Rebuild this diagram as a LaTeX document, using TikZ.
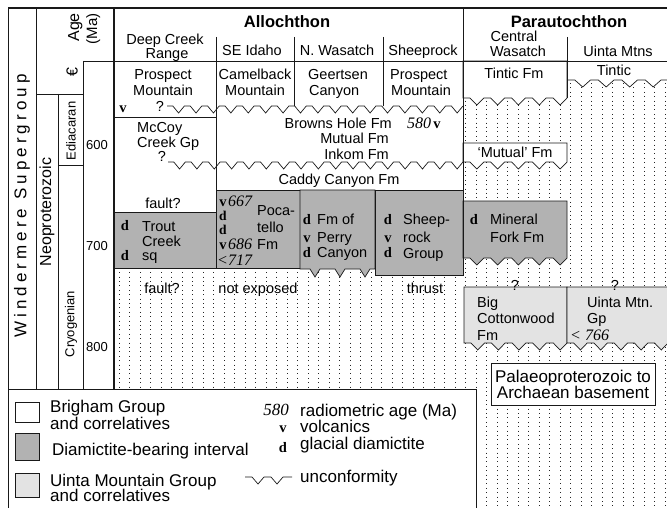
\documentclass[tikz,border=0pt]{standalone}
\usepackage{fontspec}
\setmainfont{Liberation Sans}
\newfontfamily\srf{Liberation Serif}
\newfontfamily\spacedsans[LetterSpace=24]{Liberation Sans}
\definecolor{diam}{RGB}{178,178,178}
\definecolor{uinta}{RGB}{227,227,227}
\definecolor{ink}{RGB}{25,25,25}
\newcommand{\wav}[3]{\foreach \k in {1,...,#1}{ -- ++({#2/3},0) -- ++({#2/3},#3) -- ++({#2/3},-#3)}}
\begin{document}
\begin{tikzpicture}[x=1pt,y=-1pt,
  ln/.style={draw=ink,line width=0.7pt},
  thk/.style={draw=ink,line width=1.6pt},
  dotl/.style={draw=black!85,line width=1pt,dash pattern=on 1pt off 3.4pt},
  dbox/.style={ln,fill=diam},
  ubox/.style={ln,fill=uinta},
  wbox/.style={ln,fill=white},
  tx/.style={inner sep=0pt,anchor=base,font=\fontsize{14.5}{16}\selectfont},
  tl/.style={tx,anchor=base west},
  tr/.style={tx,anchor=base east},
  hd/.style={inner sep=0pt,anchor=base,font=\fontsize{16.5}{18}\selectfont\bfseries},
  lg/.style={inner sep=0pt,anchor=base west,font=\fontsize{17}{18}\selectfont},
  lgc/.style={lg,anchor=base},
  sy/.style={inner sep=0pt,anchor=base,font=\srf\bfseries\fontsize{14.5}{15}\selectfont},
  sys/.style={sy,font=\srf\bfseries\fontsize{13.5}{14}\selectfont},
  nm/.style={inner sep=0pt,anchor=base west,font=\srf\itshape\fontsize{16}{16}\selectfont},
  rt/.style={inner sep=0pt,rotate=90,anchor=center},
]
\useasboundingbox (0,0) rectangle (667,508);

% dotted background
\begin{scope}
\clip (114,61) rectangle (667,508);
\foreach \x in {0,...,52} \draw[dotl] ({119+10.5*\x},61) -- ({119+10.5*\x},508);
\end{scope}

% white areas
\fill[white] (114,61) rectangle (216,212);
\fill[white] (216,61) rectangle (463,190);
\filldraw[wbox] (463,61) -- (463,98) \wav{5}{20.8}{7} -- (567,61) -- cycle;
\fill[white] (567,61) -- (567,80) \wav{4}{23.5}{7} -- (667,80) -- (667,61) -- cycle;
\draw[ln] (567,80) \wav{4}{23.5}{7} -- (667,80);
\filldraw[wbox] (463,143) -- (463,162) \wav{5}{20.8}{7} -- (567,143) -- cycle;

% unconformities in the allochthon
\draw[ln] (167,106) \wav{17}{17.41}{7};
\draw[ln] (168,162) \wav{17}{17.35}{7};

% diamictite boxes
\filldraw[dbox] (114,212) rectangle (216,268);
\filldraw[dbox] (216,190) rectangle (300,268);
\filldraw[dbox] (300,190) -- (300,269) -- (310,269) -- (315,277) -- (320,269) -- (335,269) -- (340,277) -- (345,269) -- (360,269) -- (365,277) -- (370,269) -- (375,269) -- (375,190) -- cycle;
\filldraw[dbox] (375,190) rectangle (463,275);
\filldraw[dbox] (463,201) -- (463,258) \wav{5}{20.8}{7} -- (567,201) -- cycle;

% Uinta group boxes
\filldraw[ubox] (464,287) -- (464,343) \wav{5}{20.6}{7} -- (567,287) -- cycle;
\filldraw[ubox] (567,287) -- (567,343) \wav{5}{20.2}{7} -- (668,287) -- cycle;

% basement box
\filldraw[wbox] (491,363) rectangle (655,405);

% legend box
\filldraw[wbox] (8,389) rectangle (476,515);

% frame lines
\draw[ln,line width=1.1pt] (8,8) -- (667,8);
\draw[ln] (8,8) -- (8,515);
\draw[ln] (36,8) -- (36,389);
\draw[ln] (58,94) -- (58,389);
\draw[ln] (83,61) -- (83,389);
\draw[ln] (36,94) -- (83,94);
\draw[ln] (58,165) -- (83,165);
\draw[ln] (83,61) -- (667,61);
\draw[thk] (114,8) -- (114,389);
\draw[ln] (114,117) -- (216,117);
\draw[ln] (216,37) -- (216,268);
\draw[ln] (294,37) -- (294,106);
\draw[ln] (383,37) -- (383,106);
\draw[ln] (463,8) -- (463,275);
\draw[ln] (567,37) -- (567,98);

% header texts
\node[hd] (allo) at (287,28) {Allochthon};
\node[hd] (para) at (569,28) {Parautochthon};
\node[tx] (dc1) at (165,45) {Deep Creek};
\node[tx] (dc2) at (167,58.5) {Range};
\node[tx] (sei) at (252,56) {SE Idaho};
\node[tx] (nwa) at (337,56) {N. Wasatch};
\node[tx] (shr) at (423,56) {Sheeprock};
\node[tx] (cw1) at (514,42) {Central};
\node[tx] (cw2) at (518,57) {Wasatch};
\node[tx] (umt) at (618,57) {Uinta Mtns};

% left columns
\node[rt,font=\spacedsans\fontsize{17}{18}\selectfont] (wind) at (22,206) {Windermere Supergroup};
\node[rt,font=\fontsize{16}{18}\selectfont] (neo) at (47,212) {Neoproterozoic};
\node[rt,font=\fontsize{13}{14}\selectfont] (edi) at (71,131) {Ediacaran};
\node[rt,font=\fontsize{13}{14}\selectfont] (cryo) at (71,324) {Cryogenian};
\node[rt,font=\fontsize{16}{18}\selectfont] (camb) at (72,72) {€};
\node[inner sep=0pt,rotate=90,anchor=base east,font=\fontsize{16}{18}\selectfont] (age1) at (79,13) {Age};
\node[inner sep=0pt,rotate=90,anchor=base east,font=\fontsize{15}{18}\selectfont] (age2) at (97,13) {(Ma)};
\node[tx,font=\fontsize{13}{14}\selectfont] (a600) at (97,150) {600};
\node[tx,font=\fontsize{13}{14}\selectfont] (a700) at (97,250) {700};
\node[tx,font=\fontsize{13}{14}\selectfont] (a800) at (97,351) {800};

% row 1
\node[tx] (pm1) at (163,80) {Prospect};
\node[tx] (pm2) at (163,96) {Mountain};
\node[tx] (cb1) at (255,80) {Camelback};
\node[tx] (cb2) at (255,96) {Mountain};
\node[tl] (gc1) at (308,80) {Geertsen};
\node[tl] (gc2) at (309,96) {Canyon};
\node[tl] (sp1) at (390,80) {Prospect};
\node[tl] (sp2) at (391,96) {Mountain};
\node[tx] (tf) at (514,79) {Tintic Fm};
\node[tx] (ti) at (614,76) {Tintic};
\node[sy] (v1) at (123,113) {v};
\node[tx] (q1) at (160,112) {?};

% row 2
\node[tl] (mc1) at (137,133) {McCoy};
\node[tl] (mc2) at (137,148) {Creek Gp};
\node[tx] (q2) at (162,161) {?};
\node[tr] (bh) at (392,129) {Browns Hole Fm};
\node[tr] (mu) at (389,144) {Mutual Fm};
\node[tr] (ik) at (389,160) {Inkom Fm};
\node[nm] (n580) at (407,129) {580};
\node[sy] (v580) at (437,129) {v};
\node[tx] (mut) at (515,158) {‘Mutual’ Fm};
\node[tx] (cc) at (339,185) {Caddy Canyon Fm};
\node[tx] (f1) at (163,208) {fault?};

% Trout Creek
\node[sy] (tcd1) at (125,230) {d};
\node[sy] (tcd2) at (125,260) {d};
\node[tl] (tc1) at (142,231) {Trout};
\node[tl] (tc2) at (142,246) {Creek};
\node[tl] (tc3) at (142,260) {sq};

% Pocatello
\node[sy] (pv1) at (223,206) {v};
\node[nm] (p667) at (228,206) {667};
\node[sys] (pd1) at (223,220.5) {d};
\node[sys] (pd2) at (223,234) {d};
\node[sy] (pv2) at (223,249) {v};
\node[nm] (p686) at (228,249) {686};
\node[nm] (p717) at (217,265.5) {<717};
\node[tl] (po1) at (257,215) {Poca-};
\node[tl] (po2) at (257,232) {tello};
\node[tl] (po3) at (257,249) {Fm};

% Perry Canyon
\node[sy] (pcd1) at (307,225) {d};
\node[sy] (pcv) at (307,242) {v};
\node[sy] (pcd2) at (307,257) {d};
\node[tl] (pc1) at (317,225) {Fm of};
\node[tl] (pc2) at (317,242) {Perry};
\node[tl] (pc3) at (317,257) {Canyon};

% Sheeprock
\node[sy] (srd1) at (388,225) {d};
\node[sy] (srv) at (388,242) {v};
\node[sy] (srd2) at (388,257) {d};
\node[tl] (sr1) at (403,225) {Sheep-};
\node[tl] (sr2) at (403,242) {rock};
\node[tl] (sr3) at (403,258) {Group};

% Mineral Fork
\node[sy] (mfd) at (474,225) {d};
\node[tl] (mf1) at (490,225) {Mineral};
\node[tl] (mf2) at (490,242) {Fork Fm};

% lower notes
\node[tx] (f2) at (162,293) {fault?};
\node[tx] (ne) at (258,293) {not exposed};
\node[tx] (th) at (425,293) {thrust};
\node[tx] (q3) at (515,290) {?};
\node[tx] (q4) at (615,290) {?};
\node[tl] (bc1) at (477,307) {Big};
\node[tl] (bc2) at (477,323) {Cottonwood};
\node[tl] (bc3) at (477,340) {Fm};
\node[tl] (ug1) at (587,307) {Uinta Mtn.};
\node[tl] (ug2) at (587,323) {Gp};
\node[nm] (u766) at (570,340) {< 766};
\node[lgc] (pb1) at (573,382) {Palaeoproterozoic to};
\node[lgc] (pb2) at (573,398) {Archaean basement};

% legend
\filldraw[wbox] (15,402) rectangle (39,422);
\filldraw[dbox] (15,433) rectangle (39,460);
\filldraw[ubox] (15,473) rectangle (39,497);
\node[lg] (l1a) at (50,412.5) {Brigham Group};
\node[lg] (l1b) at (50,429.5) {and correlatives};
\node[lg] (l2) at (52,455) {Diamictite-bearing interval};
\node[lg] (l3a) at (50,486) {Uinta Mountain Group};
\node[lg] (l3b) at (50,501.5) {and correlatives};
\node[nm,anchor=base,font=\srf\itshape\fontsize{17}{17}\selectfont] (l580) at (276,415) {580};
\node[sy] (lv) at (283,432) {v};
\node[sy] (ld) at (283,452) {d};
\node[lg] (r1) at (300,416) {radiometric age (Ma)};
\node[lg] (r2) at (300,432) {volcanics};
\node[lg] (r3) at (300,449) {glacial diamictite};
\node[lg] (r4) at (300,482) {unconformity};
\draw[ln] (245,477) -- (252,477) -- (258,484) -- (264,477) -- (271,477) -- (277,484) -- (283,477) -- (292,477);
\end{tikzpicture}
\end{document}
